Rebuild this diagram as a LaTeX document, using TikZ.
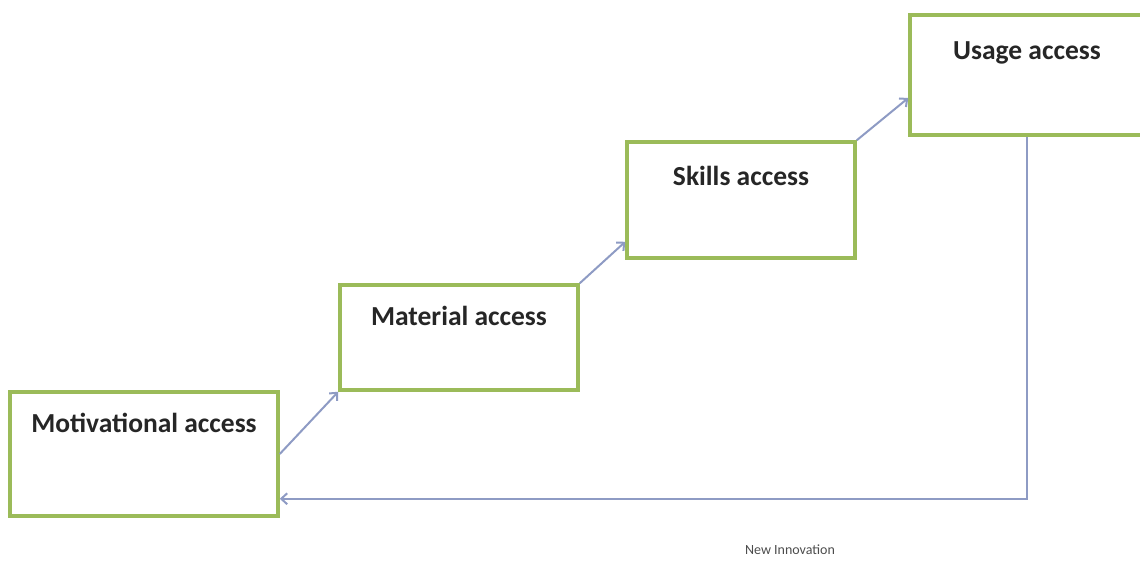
\documentclass[tikz,border=0pt]{standalone}
\usepackage{fontspec}
\setmainfont{Carlito}
\usetikzlibrary{arrows.meta}

\definecolor{boxgreen}{HTML}{9BBB59}
\definecolor{linkblue}{HTML}{8E9BC4}

\begin{document}
\begin{tikzpicture}[x=1pt,y=-1pt]
    \tikzset{access box/.style={draw=boxgreen,line width=3.5pt,fill=white,minimum width=#1},
             access title/.style={anchor=base,font=\bfseries\fontsize{27.5}{30}\selectfont,text=black!85},
             access link/.style={draw=linkblue,line width=2pt,-{Straight Barb[length=6pt,width=11pt]}}}
    \useasboundingbox (0,0) rectangle (1140,560);

    \node [access box=268pt,minimum height=124pt] (mot) at (144,454) {};
    \node [access box=238pt,minimum height=105pt] (mat) at (459,337.5) {};
    \node [access box=228pt,minimum height=116pt] (skl) at (741,200) {};
    % runs on past the right margin
    \node [access box=250pt,minimum height=120pt] (use) at (1035,75) {};

    \node [access title] (mot-t) at ([yshift=-42pt]mot.north) {Motivational access};
    \node [access title] (mat-t) at ([yshift=-42pt]mat.north) {Material access};
    \node [access title] (skl-t) at ([yshift=-45pt]skl.north) {Skills access};
    \node [access title] (use-t) at ([xshift=-8pt,yshift=-46pt]use.north) {Usage access};

    \draw [access link] (mot.east) -- (mat.south west);
    \draw [access link] (mat.north east) -- ([yshift=18pt]skl.south west);
    \draw [access link] (skl.north east) -- ([yshift=-23pt]use.west);
    \draw [access link] ([xshift=-8pt]use.south) |- ([yshift=19pt]mot.south east);

    \node [font=\fontsize{14}{16}\selectfont,text=black!70] (innov) at (790,550) {New Innovation};
  \end{tikzpicture}
\end{document}
